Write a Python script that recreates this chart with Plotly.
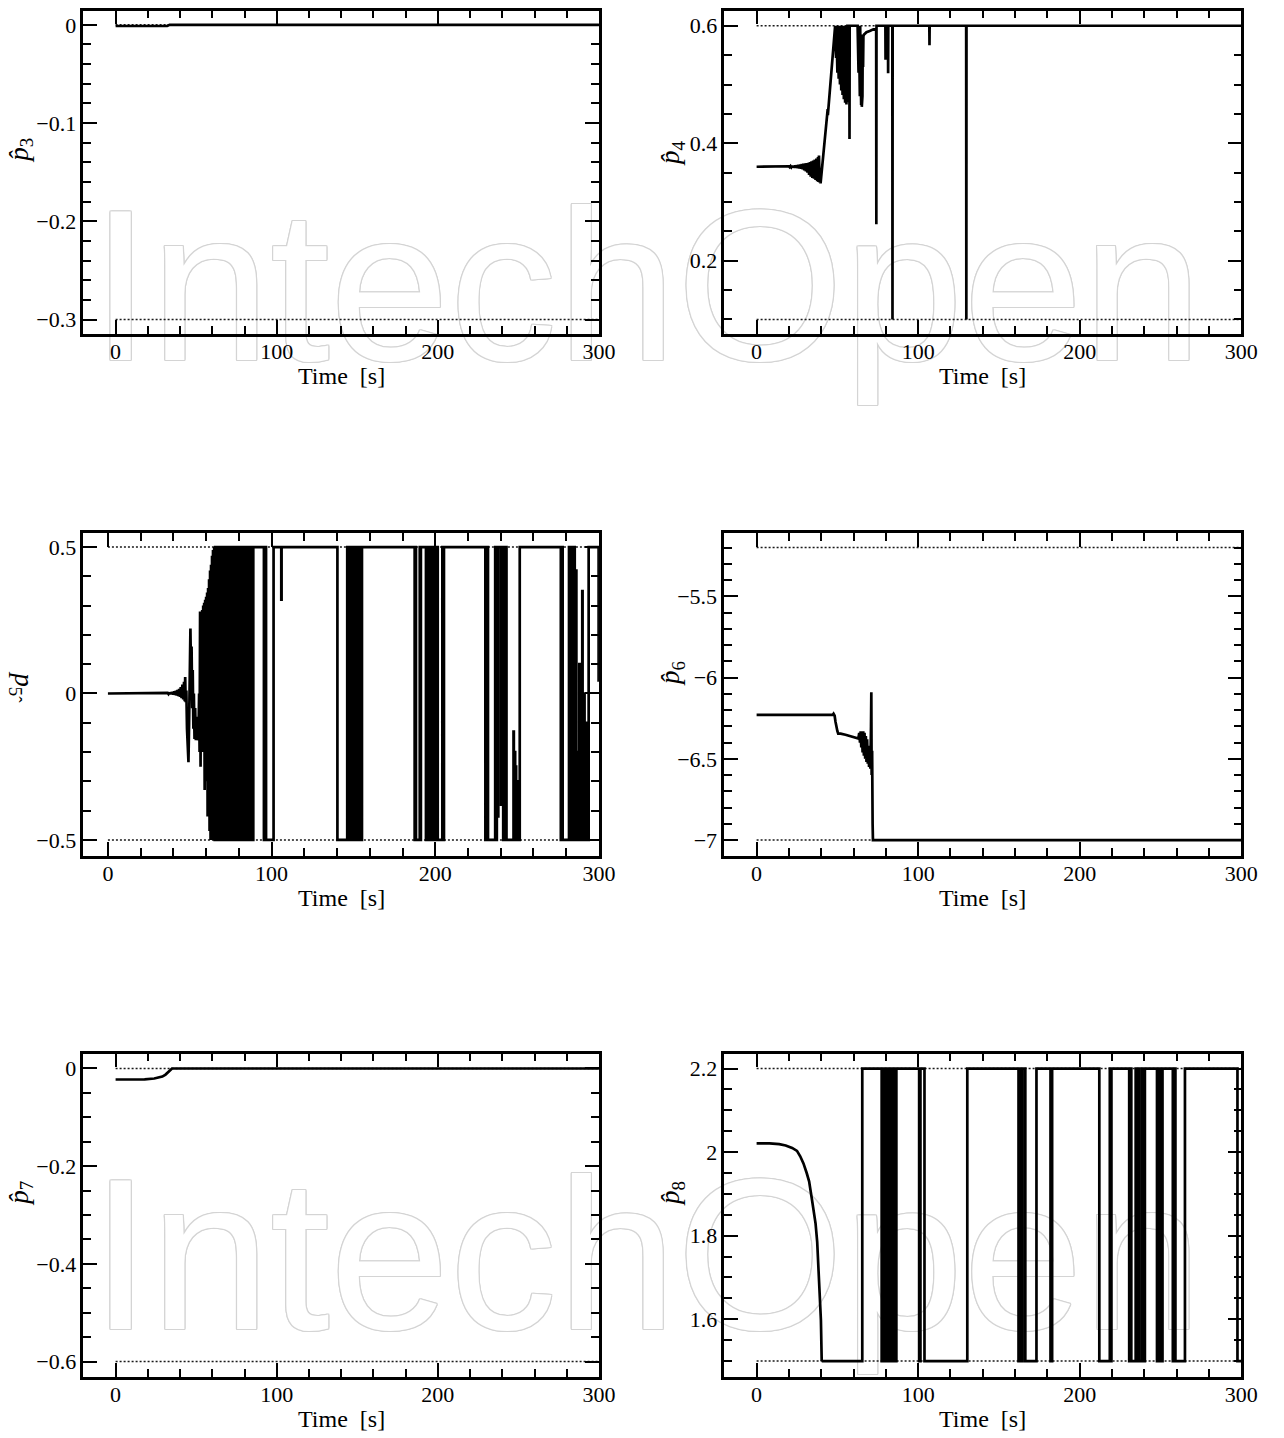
import plotly.graph_objects as go

FIG_W, FIG_H = 1284, 1438

# ------------------------------------------------------------------
# Estimated parameters p3 ... p8 versus time [s]
# ------------------------------------------------------------------
P3_T = [0, 32.0, 33.5, 300]
P3_V = [-0.0012, -0.0012, 0.0, 0.0]
P3_BOUNDS = [0.0, -0.3]

P4_T = [0, 18,
        20, 20.5, 21, 21.5, 22, 22.5, 23, 23.5, 24, 24.5, 25, 25.5, 26, 26.5,
        27, 27.5, 28, 28.5, 29, 29.5, 30, 30.5, 31, 31.5, 32, 32.5, 33, 33.5,
        34, 34.5, 35, 35.5, 36, 36.5, 37, 37.5, 38, 38.3, 38.6, 39.0, 39.3, 39.6,
        44.0, 44.1,
        48.6, 48.8, 49.0, 49.2, 49.4, 49.6, 49.8, 50.0, 50.2, 50.4, 50.6, 50.8,
        51.0, 51.2, 51.4, 51.6, 51.8, 52.0, 52.2, 52.4, 52.6, 52.8, 53.0, 53.2,
        53.4, 53.6, 53.8, 54.0, 54.2, 54.4, 54.6, 54.8, 55.0, 55.2, 55.4, 55.6,
        55.8, 56.0, 56.2,
        57.4, 57.5, 57.6,
        62.5, 62.7, 62.9, 63.1, 63.3, 63.5, 63.7, 63.9, 64.1, 64.3, 64.5, 64.7,
        64.9, 65.1, 65.3, 65.5, 65.7, 65.9, 66.1,
        66.5, 68.0, 70.0, 72.0, 74.0, 74.1, 74.2,
        79.7, 79.8, 79.9, 81.3, 81.4, 81.5,
        84.0, 84.1, 84.2,
        106.9, 107.0, 107.1,
        129.7, 129.8, 129.9, 300]
P4_V = [0.360, 0.360,
        0.3608, 0.3592, 0.3610, 0.3590, 0.3613, 0.3588, 0.3616, 0.3585, 0.3620, 0.3582, 0.3625, 0.3578, 0.3632, 0.3572,
        0.3638, 0.3565, 0.3645, 0.3555, 0.3652, 0.3540, 0.3658, 0.3520, 0.3663, 0.3500, 0.3668, 0.3460, 0.3680, 0.3430,
        0.3692, 0.3410, 0.3705, 0.3395, 0.3720, 0.3375, 0.3740, 0.3355, 0.3765, 0.3340, 0.3790, 0.3330, 0.3500, 0.3316,
        0.4580, 0.4480,
        0.600, 0.550, 0.600, 0.545, 0.600, 0.530, 0.600, 0.520, 0.600, 0.515, 0.600, 0.510,
        0.600, 0.505, 0.600, 0.500, 0.600, 0.497, 0.600, 0.490, 0.600, 0.487, 0.600, 0.482,
        0.600, 0.478, 0.600, 0.475, 0.600, 0.472, 0.600, 0.469, 0.600, 0.468, 0.600, 0.466,
        0.600, 0.470, 0.600,
        0.600, 0.407, 0.600,
        0.600, 0.550, 0.600, 0.520, 0.600, 0.500, 0.600, 0.480, 0.600, 0.470, 0.590, 0.465,
        0.585, 0.462, 0.580, 0.480, 0.580, 0.530, 0.582,
        0.585, 0.589, 0.591, 0.593, 0.596, 0.262, 0.600,
        0.600, 0.542, 0.600, 0.600, 0.519, 0.600,
        0.600, 0.100, 0.600,
        0.600, 0.567, 0.600,
        0.600, 0.100, 0.600, 0.600]
P4_BOUNDS = [0.6, 0.1]

# p5: transient part (continuous) ...
P5_T = [0, 20, 30, 36,
        36.5, 37, 37.5, 38, 38.5, 39, 39.5, 40, 40.5, 41, 41.5, 42, 42.5, 43,
        43.5, 44, 44.5, 45, 45.5, 46, 46.5, 46.9, 47.2, 47.5,
        47.9, 48.3, 48.8, 49.2, 49.6, 50.0, 50.4, 50.8, 51.1, 51.5, 51.8, 52.2,
        52.5, 52.9, 53.3, 53.7, 54.1, 54.5, 54.9, 55.3, 55.7, 56.0, 56.3, 56.6,
        57.0, 57.3, 57.6, 57.9, 58.2, 58.5, 58.8, 59.1, 59.4, 59.7, 60.0, 60.3,
        60.6, 60.9, 61.2, 61.5, 61.8, 62.1, 62.4, 62.7, 63.0, 63.3, 63.6, 63.9,
        64.2, 64.5, 64.9]
P5_V = [0.0, 0.0, 0.0008, 0.0,
        0.002, -0.002, 0.003, -0.002, 0.004, -0.003, 0.005, -0.004, 0.007, -0.005, 0.009, -0.007, 0.012, -0.009,
        0.016, -0.012, 0.022, -0.016, 0.030, -0.020, 0.040, -0.026, 0.056, -0.030,
        0.010, -0.120, -0.200, -0.235, -0.100, 0.150, 0.222, 0.050, 0.160, -0.050, 0.080, -0.120,
        0.000, -0.155, -0.050, -0.160, -0.080, -0.160, -0.100, -0.150, 0.000, -0.200, 0.280, -0.250,
        0.280, -0.100, 0.285, -0.200, 0.300, -0.150, 0.310, -0.330, 0.320, -0.120, 0.330, -0.300,
        0.345, -0.420, 0.360, -0.350, 0.390, -0.470, 0.420, -0.500, 0.440, -0.500, 0.470, -0.500,
        0.490, -0.500, 0.500]
# ... and switching part (value held until the next switching instant)
P5_SW_T = [64.9,
           65.2, 65.5, 65.9, 66.2, 66.6, 66.9, 67.3, 67.6, 68.0, 68.3, 68.7, 69.0,
           69.4, 69.7, 70.1, 70.4, 70.8, 71.1, 71.5, 71.8, 72.2, 72.6,
           73.6, 74.0, 74.4, 74.8, 76.2, 76.7,
           77.3, 77.6, 77.9, 78.2, 78.5, 78.8, 79.1, 79.3, 79.6, 79.9, 80.2, 80.5,
           80.8, 81.0, 81.3, 81.6, 81.9, 82.2, 82.5, 82.8, 83.1, 83.4, 83.7, 84.0,
           84.3, 84.6, 85.5, 85.8, 86.1, 86.4, 86.7, 87.0, 88.4, 88.8,
           95.3, 95.6, 96.6, 101.2, 105.9, 106.1,
           140.2,
           146.2, 146.5, 146.8, 147.1, 147.4, 147.7, 148.0, 148.3, 149.0, 149.3,
           149.6, 149.9, 150.2, 150.5, 150.8, 151.1, 151.4, 151.7, 152.0, 152.3,
           152.6, 152.9, 153.2, 153.5, 153.8, 154.1, 154.4, 154.7, 155.2,
           187.4, 187.8, 188.2, 190.5, 190.9, 191.2,
           194.3, 194.6, 194.9, 195.1, 195.5, 195.7, 196.0, 196.3, 196.6, 196.9,
           197.2, 197.5, 197.8, 198.1, 198.4, 198.7, 199.0, 199.3, 200.3, 200.5,
           200.9, 201.2, 201.5, 204.3, 204.8, 205.3,
           230.6, 231.3, 232.2, 236.6, 237.2, 237.6, 238.2, 238.5, 240.2, 240.5,
           241.5, 242.0, 242.5, 243.0, 243.5, 247.8, 248.0, 248.6, 248.8, 249.2,
           249.4, 249.8, 250.0, 250.4, 250.6, 251.0, 251.2, 251.6,
           276.7, 277.3, 277.8, 281.7, 282.0, 282.4, 282.8, 283.2, 283.6, 284.0,
           284.4, 284.8, 285.2, 286.0, 286.2, 287.0, 287.2, 288.0, 288.2, 289.8,
           290.0, 291.0, 291.2, 292.0, 292.2, 293.7, 299.8, 300.0]
P5_SW_V = [0.5,
           -0.5, 0.5, -0.5, 0.5, -0.5, 0.5, -0.5, 0.5, -0.5, 0.5, -0.5, 0.5,
           -0.5, 0.5, -0.5, 0.5, -0.5, 0.5, -0.5, 0.5, -0.5, 0.5,
           -0.5, 0.5, -0.5, 0.5, -0.5, 0.5,
           -0.5, 0.5, -0.5, 0.5, -0.5, 0.5, -0.05, 0.5, -0.5, 0.5, -0.5, 0.5,
           -0.27, 0.5, -0.5, 0.5, -0.5, 0.5, -0.5, 0.5, -0.5, 0.5, -0.5, 0.5,
           -0.5, 0.5, -0.5, 0.5, -0.5, 0.5, -0.5, 0.5, -0.5, 0.5,
           -0.5, 0.5, -0.5, 0.5, 0.32, 0.5,
           -0.5,
           0.5, -0.5, 0.5, -0.5, 0.5, -0.5, 0.5, -0.5, 0.5, -0.5,
           0.5, -0.5, 0.5, -0.5, 0.5, -0.5, 0.5, -0.5, 0.5, -0.5,
           0.5, -0.5, 0.5, -0.5, 0.5, -0.5, 0.5, -0.5, 0.5,
           -0.5, 0.5, -0.5, 0.5, -0.5, 0.5,
           -0.5, 0.5, -0.1, 0.5, -0.14, 0.5, -0.5, 0.5, -0.5, 0.5,
           -0.5, 0.5, -0.5, 0.5, -0.5, 0.5, -0.5, 0.5, 0.28, 0.5,
           -0.5, 0.5, -0.5, 0.5, -0.5, 0.5,
           -0.5, 0.5, -0.5, 0.5, -0.5, 0.5, -0.42, 0.5, -0.38, 0.5,
           -0.5, 0.5, -0.5, 0.5, -0.5, -0.13, -0.5, -0.2, -0.5, -0.25,
           -0.5, -0.3, -0.5, -0.35, -0.5, -0.4, -0.5, 0.5,
           -0.5, 0.5, -0.5, 0.5, -0.5, 0.5, -0.5, 0.5, -0.5, 0.5,
           -0.5, 0.5, -0.5, 0.42, -0.5, -0.2, -0.5, 0.1, -0.5, 0.35,
           -0.5, 0.0, -0.5, -0.1, -0.5, 0.5, 0.045, 0.045]
P5_BOUNDS = [0.5, -0.5]

P6_T = [0, 47.0, 47.6, 48.3, 48.8, 49.3, 50.0, 50.5, 52, 55, 58, 61, 63,
        63.5, 64.0, 64.4, 64.8, 65.2, 65.6, 66.0, 66.4, 66.8, 67.2, 67.6, 68.0,
        68.4, 68.8, 69.2, 69.6, 70.0, 70.4, 70.8, 71.0, 71.2, 71.5, 71.8, 72.0, 300]
P6_V = [-6.23, -6.23, -6.222, -6.235, -6.27, -6.31, -6.33, -6.345, -6.345, -6.352, -6.36, -6.372, -6.375,
        -6.34, -6.40, -6.33, -6.43, -6.34, -6.46, -6.33, -6.48, -6.34, -6.50, -6.36, -6.52,
        -6.38, -6.53, -6.42, -6.55, -6.45, -6.56, -6.30, -6.09, -6.60, -6.45, -6.90, -7.0, -7.0]
P6_BOUNDS = [-5.2, -7.0]

P7_T = [0, 10, 18, 24, 27, 29, 31, 32.5, 34, 35, 300]
P7_V = [-0.0225, -0.0225, -0.0222, -0.0205, -0.019, -0.0165, -0.0125, -0.008, -0.002, 0.0, 0.0]
P7_BOUNDS = [0.0, -0.6]

# p8: initial decay ...
P8_T = [0, 8, 14, 18, 22, 25, 27, 29, 31, 32.5, 34, 35.5, 36.5, 37.5, 38.3, 39.0, 39.8, 40.3]
P8_V = [2.021, 2.021, 2.019, 2.016, 2.010, 2.003, 1.990, 1.973, 1.950, 1.930, 1.893, 1.860,
        1.829, 1.785, 1.726, 1.670, 1.598, 1.500]
# ... then switching between the bounds
P8_SW_T = [40.3, 65.4, 77.4, 78.2, 79.0, 79.9, 80.9, 82.5, 83.1, 83.7, 84.7, 85.5,
           86.0, 86.5, 100.6, 101.4, 103.9, 130.4, 162.1, 162.8, 163.6,
           164.6, 166.3, 173.2, 181.9, 182.9, 212.1, 218.6, 219.2, 219.6, 230.6,
           231.3, 231.9, 234.6, 235.3, 236.3, 236.9, 238.6, 239.3, 240.3, 247.8,
           248.4, 249.0, 249.6, 250.3, 251.2, 257.6, 258.5, 259.2, 265.1, 297.6, 300.0]
P8_SW_V = [1.5, 2.2, 1.5, 2.2, 1.5, 2.2, 1.5, 2.2, 1.5, 2.2, 1.5, 2.2,
           1.5, 2.2, 1.5, 2.2, 1.5, 2.2, 1.5, 2.2, 1.5,
           2.2, 1.5, 2.2, 1.5, 2.2, 1.5, 2.2, 1.5, 2.2, 1.5,
           2.2, 1.5, 2.2, 1.5, 2.2, 1.5, 2.2, 1.5, 2.2, 1.5,
           2.2, 1.5, 2.2, 1.5, 2.2, 1.5, 2.2, 1.5, 2.2, 1.5, 1.5]
P8_BOUNDS = [2.2, 1.5]

T_START, T_END = 0, 300
X_TITLE = "Time\u00a0\u00a0[s]"
WATERMARK = "IntechOpen"

# ------------------------------------------------------------------
SERIF = "Liberation Serif, Times New Roman, serif"
COLS = [(84.5, 607.0), (734.0, 1258.0)]                     # frame x extents [px]
ROWS = [(10.5, 334.0), (533.0, 856.0), (1053.5, 1376.5)]    # frame y extents [px]


def fx(p):
    return p / FIG_W


def fy(p):
    return 1 - p / FIG_H


panels = [
    dict(row=0, col=0, xr=[-20, 300], yr=[-0.3147, 0.0146], tick0=0, dtick=0.1, minor=0.02,
         label="<i>p\u0302</i><sub>3</sub>", lab=(21, 150), angle=-90, bounds=P3_BOUNDS,
         lines=[(P3_T, P3_V, "linear")]),
    dict(row=0, col=1, xr=[-20, 300], yr=[0.0752, 0.626], tick0=0.2, dtick=0.2, minor=0.05,
         label="<i>p\u0302</i><sub>4</sub>", lab=(681, 153), angle=-90, bounds=P4_BOUNDS,
         lines=[(P4_T, P4_V, "linear")]),
    dict(row=1, col=0, xr=[-15, 300], yr=[-0.555, 0.548], tick0=0, dtick=0.5, minor=0.1,
         label="<i>p</i><sub>5</sub><sub>\u02c6</sub>", lab=(22, 687), angle=90, bounds=P5_BOUNDS,
         lines=[(P5_T, P5_V, "linear"), (P5_SW_T, P5_SW_V, "hv")]),
    dict(row=1, col=1, xr=[-20, 300], yr=[-7.098, -5.11], tick0=-7, dtick=0.5, minor=0.1,
         label="<i>p\u0302</i><sub>6</sub>", lab=(681, 673), angle=-90, bounds=P6_BOUNDS,
         lines=[(P6_T, P6_V, "linear")]),
    dict(row=2, col=0, xr=[-20, 300], yr=[-0.6307, 0.0307], tick0=0, dtick=0.2, minor=0.05,
         label="<i>p\u0302</i><sub>7</sub>", lab=(21, 1193), angle=-90, bounds=P7_BOUNDS,
         lines=[(P7_T, P7_V, "linear")]),
    dict(row=2, col=1, xr=[-20, 300], yr=[1.463, 2.236], tick0=1.6, dtick=0.2, minor=0.05,
         label="<i>p\u0302</i><sub>8</sub>", lab=(681, 1193), angle=-90, bounds=P8_BOUNDS,
         lines=[(P8_T, P8_V, "linear"), (P8_SW_T, P8_SW_V, "hv")]),
]

fig = go.Figure()

# Watermark on a full-page layer in pixel coordinates, drawn beneath the panels
outline = ", ".join(f"{dx}px {dy}px 0 #d4d4d4" for dx, dy in
                    [(-1, -1), (1, -1), (-1, 1), (1, 1), (0, 1.2), (0, -1.2), (1.2, 0), (-1.2, 0)])
fig.add_trace(go.Scatter(
    x=[92, 92], y=[306, 1275], mode="text", text=[WATERMARK, WATERMARK],
    textposition="middle right", cliponaxis=False, hoverinfo="skip", showlegend=False,
    textfont=dict(family="Liberation Sans, Arial, sans-serif", size=215, color="white", shadow=outline),
    xaxis="x", yaxis="y"))

layout = dict(
    width=FIG_W, height=FIG_H, autosize=False,
    margin=dict(l=0, r=0, t=0, b=0, pad=0),
    paper_bgcolor="white", plot_bgcolor="rgba(0,0,0,0)",
    showlegend=False,
    xaxis=dict(domain=[0, 1], range=[0, FIG_W], visible=False, fixedrange=True),
    yaxis=dict(domain=[0, 1], range=[FIG_H, 0], visible=False, fixedrange=True),
)

annotations = []
for k, p in enumerate(panels, start=2):
    xa, ya = f"x{k}", f"y{k}"
    x0, x1 = COLS[p["col"]]
    y0, y1 = ROWS[p["row"]]
    axis_common = dict(
        showline=True, linewidth=2.5, linecolor="black", mirror="allticks",
        ticks="inside", ticklen=14, tickwidth=2, tickcolor="black",
        showgrid=False, zeroline=False, tickfont=dict(family=SERIF, size=22, color="black"),
        fixedrange=True,
    )
    layout[f"xaxis{k}"] = dict(
        domain=[fx(x0), fx(x1)], range=p["xr"], anchor=ya,
        tickmode="linear", tick0=0, dtick=100, ticklabelstandoff=-4,
        minor=dict(ticks="inside", ticklen=8, tickwidth=2, tickcolor="black", tick0=0, dtick=20),
        **axis_common)
    layout[f"yaxis{k}"] = dict(
        domain=[fy(y1), fy(y0)], range=p["yr"], anchor=xa,
        tickmode="linear", tick0=p["tick0"], dtick=p["dtick"],
        minor=dict(ticks="inside", ticklen=8, tickwidth=2, tickcolor="black",
                   tick0=p["tick0"], dtick=p["minor"]),
        **axis_common)

    # parameter bounds (dotted)
    for b in p["bounds"]:
        fig.add_trace(go.Scatter(
            x=[T_START, T_END], y=[b, b], mode="lines", xaxis=xa, yaxis=ya,
            line=dict(color="#1a1a1a", width=1.5, dash="2px,2px"),
            hoverinfo="skip", showlegend=False))
    # estimated parameter
    for tt, vv, shape in p["lines"]:
        fig.add_trace(go.Scatter(
            x=tt, y=vv, mode="lines", xaxis=xa, yaxis=ya,
            line=dict(color="black", width=2.7, shape=shape),
            hoverinfo="skip", showlegend=False))

    # axis titles
    annotations.append(dict(
        x=fx((x0 + x1) / 2), y=fy(y1 + 42), xref="paper", yref="paper",
        text=X_TITLE, showarrow=False, xanchor="center", yanchor="middle",
        font=dict(family=SERIF, size=24, color="black")))
    lx, ly = p["lab"]
    annotations.append(dict(
        x=fx(lx), y=fy(ly), xref="paper", yref="paper", text=p["label"],
        textangle=p["angle"], showarrow=False, xanchor="center", yanchor="middle",
        font=dict(family=SERIF, size=27, color="black")))

layout["annotations"] = annotations
fig.update_layout(**layout)

fig.write_html("out.html")
